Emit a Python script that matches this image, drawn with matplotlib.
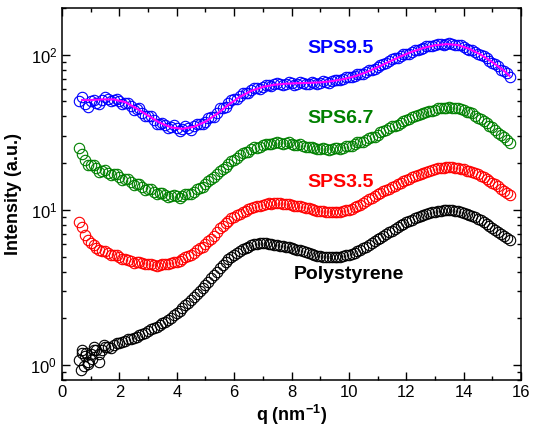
import matplotlib; matplotlib.use('Agg')
import matplotlib.pyplot as plt
from matplotlib.ticker import MultipleLocator, LogLocator, NullFormatter

plt.rcParams['font.family'] = ['Liberation Sans', 'DejaVu Sans']
plt.rcParams['mathtext.default'] = 'regular'

# scan points (two interleaved sets)
q = [0.6, 0.8,
     1.0, 1.2, 1.4, 1.6, 1.8, 2.0, 2.2, 2.4, 2.6, 2.8, 3.0, 3.2, 3.4, 3.6, 3.8,
     4.0, 4.2, 4.4, 4.6, 4.8, 5.0, 5.2, 5.4, 5.6, 5.8, 6.0, 6.2, 6.4, 6.6, 6.8,
     7.0, 7.2, 7.4, 7.6, 7.8, 8.0, 8.2, 8.4, 8.6, 8.8, 9.0, 9.2, 9.4, 9.6, 9.8,
     10.0, 10.2, 10.4, 10.6, 10.8, 11.0, 11.2, 11.4, 11.6, 11.8, 12.0, 12.2, 12.4, 12.6, 12.8,
     13.0, 13.2, 13.4, 13.6, 13.8, 14.0, 14.2, 14.4, 14.6, 14.8, 15.0, 15.2, 15.4, 15.6]
q2 = [0.7, 0.9,
      1.1, 1.3, 1.5, 1.7, 1.9, 2.1, 2.3, 2.5, 2.7, 2.9, 3.1, 3.3, 3.5, 3.7, 3.9,
      4.1, 4.3, 4.5, 4.7, 4.9, 5.1, 5.3, 5.5, 5.7, 5.9, 6.1, 6.3, 6.5, 6.7, 6.9,
      7.1, 7.3, 7.5, 7.7, 7.9, 8.1, 8.3, 8.5, 8.7, 8.9, 9.1, 9.3, 9.5, 9.7, 9.9,
      10.1, 10.3, 10.5, 10.7, 10.9, 11.1, 11.3, 11.5, 11.7, 11.9, 12.1, 12.3, 12.5, 12.7, 12.9,
      13.1, 13.3, 13.5, 13.7, 13.9, 14.1, 14.3, 14.5, 14.7, 14.9, 15.1, 15.3, 15.5]

sps95 = [50, 48,
         50, 49, 51, 52, 51, 50.5, 49, 46.5, 44.5, 42, 40, 38, 36, 35, 34,
         33.5, 33, 33.5, 34.5, 35.5, 37, 39.5, 42, 45.5, 49, 51.5, 54.5, 56.5, 59, 61,
         62, 63.5, 64.5, 65, 65, 65.5, 65, 65.5, 65, 66, 66, 66.5, 67.5, 69, 70,
         71.5, 73, 75, 77, 80, 83, 87, 91, 95, 98, 101, 104, 108, 111, 114,
         116, 117, 118, 117, 115, 112, 108, 104, 100, 95, 89, 84, 78, 72]
sps95_2 = [53, 46,
           51, 48, 53, 50, 52, 48, 49, 44, 45, 40, 40, 36, 36.5, 33.5, 35,
           32, 34.5, 32.5, 36, 35.5, 39, 39.5, 45, 46, 51, 52, 56.5, 57, 61, 60.5,
           64, 63, 66, 64, 66.5, 64, 66.5, 64.5, 67, 65, 67.5, 66, 69, 69, 72,
           71.5, 75, 75.5, 80, 80.5, 86, 88, 94, 95.5, 100.5, 101.5, 107, 108.5, 113.5, 114,
           118, 116, 119, 115, 115, 109, 107, 101, 98.5, 91, 87.5, 80, 76]

sps67 = [25, 21,
         19.5, 18.5, 17.8, 17.3, 17, 16.3, 15.7, 15.2, 14.6, 14, 13.6, 13.1, 12.8, 12.5, 12.3,
         12.2, 12.3, 12.6, 13.1, 13.8, 14.7, 15.8, 17, 18.4, 19.6, 21, 22.5, 23.5, 24.5, 25.2,
         26, 26.5, 27, 27, 27, 26.7, 26.3, 25.8, 25.3, 25, 24.8, 24.8, 24.8, 25, 25.2,
         25.8, 26.5, 27.2, 28.2, 29.3, 30.5, 32, 33.5, 34.8, 36.5, 38, 39.5, 41, 42.2, 43.3,
         44.3, 45, 45.5, 45.5, 45, 44, 42.5, 40.5, 38.5, 36.3, 34, 31.5, 29.3, 27]
sps67_2 = [23, 19.5,
           19.5, 17.5, 18, 16.7, 17, 15.6, 15.8, 14.5, 14.7, 13.4, 13.6, 12.6, 12.9, 12.1, 12.5,
           11.9, 12.6, 12.6, 13.6, 14, 15.4, 16.2, 17.9, 18.8, 20.5, 21.5, 23.3, 23.7, 25.3, 25.3,
           26.6, 26.4, 27.4, 26.6, 27.2, 26.2, 26.4, 25.3, 25.5, 24.6, 25.2, 24.4, 25.2, 24.8, 25.8,
           25.8, 27.2, 27.4, 29, 29.6, 31.6, 32.5, 34.5, 35.3, 37.5, 38.5, 40.5, 41.3, 43, 43.5,
           45, 45, 46, 45, 44.8, 43, 41.8, 39.2, 37.6, 34.9, 32.9, 30.2, 28.3]

sps35 = [8.3, 6.9,
         6.1, 5.7, 5.45, 5.3, 5.1, 4.95, 4.8, 4.65, 4.58, 4.52, 4.45, 4.42, 4.4, 4.45, 4.52,
         4.62, 4.8, 5.02, 5.3, 5.65, 6.05, 6.5, 7.2, 7.9, 8.5, 9.0, 9.45, 9.9, 10.3, 10.6,
         10.8, 11.0, 11.0, 11.0, 10.9, 10.75, 10.6, 10.4, 10.2, 10.0, 9.85, 9.7, 9.65, 9.7, 9.8,
         10.0, 10.4, 10.8, 11.4, 12.0, 12.6, 13.2, 13.7, 14.3, 15.0, 15.6, 16.2, 16.8, 17.3, 17.8,
         18.3, 18.6, 18.8, 18.8, 18.6, 18.2, 17.7, 17.2, 16.6, 15.8, 15.0, 14.2, 13.3, 12.5]
sps35_2 = [7.7, 6.4,
           5.95, 5.5, 5.45, 5.1, 5.1, 4.8, 4.78, 4.55, 4.58, 4.45, 4.46, 4.36, 4.45, 4.45, 4.6,
           4.68, 4.95, 5.1, 5.5, 5.8, 6.3, 6.8, 7.6, 8.2, 8.8, 9.2, 9.7, 10.05, 10.5, 10.65,
           10.95, 10.95, 11.05, 10.9, 10.85, 10.65, 10.55, 10.25, 10.15, 9.9, 9.8, 9.62, 9.7, 9.72, 9.92,
           10.15, 10.6, 11.05, 11.7, 12.3, 12.9, 13.45, 14.0, 14.7, 15.3, 15.9, 16.5, 17.0, 17.6, 18.0,
           18.5, 18.65, 18.9, 18.7, 18.45, 17.9, 17.5, 16.9, 16.2, 15.4, 14.6, 13.7, 12.9]

ps = [1.08, 1.15,
      1.18, 1.25, 1.24, 1.3, 1.35, 1.38, 1.43, 1.48, 1.52, 1.58, 1.65, 1.72, 1.8, 1.9, 2.02,
      2.17, 2.33, 2.52, 2.74, 3.0, 3.3, 3.62, 4.0, 4.4, 4.8, 5.15, 5.45, 5.7, 5.9, 6.05,
      6.1, 6.05, 5.95, 5.88, 5.8, 5.7, 5.55, 5.4, 5.25, 5.12, 5.02, 4.96, 4.95, 4.97, 5.02,
      5.15, 5.3, 5.5, 5.8, 6.1, 6.45, 6.8, 7.15, 7.55, 7.95, 8.3, 8.65, 9.0, 9.3, 9.55,
      9.75, 9.9, 9.95, 9.95, 9.85, 9.6, 9.3, 8.95, 8.55, 8.1, 7.65, 7.2, 6.8, 6.4]
ps_2 = [1.2, 1.05,
        1.25, 1.18, 1.3, 1.28, 1.39, 1.4, 1.47, 1.49, 1.56, 1.6, 1.7, 1.75, 1.86, 1.95, 2.1,
        2.24, 2.43, 2.62, 2.87, 3.15, 3.45, 3.8, 4.2, 4.6, 4.98, 5.3, 5.6, 5.8, 5.98, 6.08,
        6.08, 6.0, 5.92, 5.84, 5.75, 5.62, 5.48, 5.32, 5.18, 5.07, 4.98, 4.95, 4.96, 4.99, 5.08,
        5.22, 5.4, 5.65, 5.95, 6.28, 6.62, 6.98, 7.35, 7.75, 8.12, 8.48, 8.82, 9.15, 9.42, 9.65,
        9.82, 9.93, 9.96, 9.9, 9.72, 9.45, 9.12, 8.75, 8.32, 7.88, 7.42, 7.0, 6.6]

# scattered low-q points of polystyrene
ps_q_extra = [0.65, 0.7, 0.75, 0.9, 1.1, 1.3, 1.45, 0.85, 1.05]
ps_extra = [0.93, 1.25, 0.98, 1.02, 1.3, 1.05, 1.35, 1.2, 1.1]

fit_q = [0.7, 1.0, 1.4, 1.8, 2.2, 2.6, 3.0, 3.4, 3.8, 4.2, 4.6, 5.0, 5.4, 5.8, 6.2, 6.6, 7.0,
         7.4, 7.8, 8.2, 8.6, 9.0, 9.4, 9.8, 10.2, 10.6, 11.0, 11.4, 11.8, 12.2, 12.6, 13.0,
         13.4, 13.8, 14.2, 14.6, 15.0, 15.4, 15.6]
fit_i = [51, 51, 51.5, 51.5, 49.5, 45, 40.5, 36.5, 34, 33.3, 34.3, 37, 41.5, 47.5, 53.5, 58.5, 62,
         64, 65, 65.5, 65.8, 66.3, 67.5, 69.5, 72.5, 77, 83, 90, 97.5, 104.5, 110.5, 115,
         117, 115.5, 109, 100, 89.5, 79, 73]

labels = ['SPS9.5', 'SPS6.7', 'SPS3.5', 'Polystyrene']
colors = ['#0000ff', '#008000', '#ff0000', '#000000']
label_pos = [(9.7, 110), (9.7, 39), (9.7, 15), (10.0, 3.85)]


def main():
    fig = plt.figure(figsize=(5.34, 4.34), dpi=100)
    ax = fig.add_axes([0.1161, 0.1244, 0.8596, 0.8572])

    mk = dict(marker='o', linestyle='none', markerfacecolor='none', markersize=7.5, markeredgewidth=0.8)
    series = [(sps95, sps95_2), (sps67, sps67_2), (sps35, sps35_2), (ps, ps_2)]
    for (a, b), c in list(zip(series, colors))[::-1]:
        ax.plot(q + q2, a + b, markeredgecolor=c, **mk)
        if c == '#000000':
            ax.plot(ps_q_extra, ps_extra, markeredgecolor=c, **mk)
    ax.plot(fit_q, fit_i, color='#ff00ff', lw=1.5)

    for lab, c, (x, y) in zip(labels, colors, label_pos):
        ax.text(x, y, lab, color=c, fontsize=14, fontweight='bold', ha='center', va='center')

    ax.set_yscale('log')
    ax.set_xlim(0, 16)
    ax.set_ylim(0.8, 200)
    ax.xaxis.set_major_locator(MultipleLocator(2))
    ax.xaxis.set_minor_locator(MultipleLocator(1))
    ax.yaxis.set_major_locator(LogLocator(base=10))
    ax.yaxis.set_minor_locator(LogLocator(base=10, subs=range(2, 10)))
    ax.yaxis.set_minor_formatter(NullFormatter())
    ax.tick_params(which='both', direction='in', top=True, right=True, width=1)
    ax.tick_params(which='major', length=6, labelsize=12)
    ax.tick_params(which='minor', length=3)
    for s in ax.spines.values():
        s.set_linewidth(1.1)

    ax.set_xlabel('q (nm$^{-1}$)', fontsize=13, fontweight='bold', labelpad=2)
    ax.set_ylabel('Intensity (a.u.)', fontsize=13, fontweight='bold', labelpad=6)

    fig.savefig('out.png', dpi=100)
    plt.close()


if __name__ == '__main__':
    main()
